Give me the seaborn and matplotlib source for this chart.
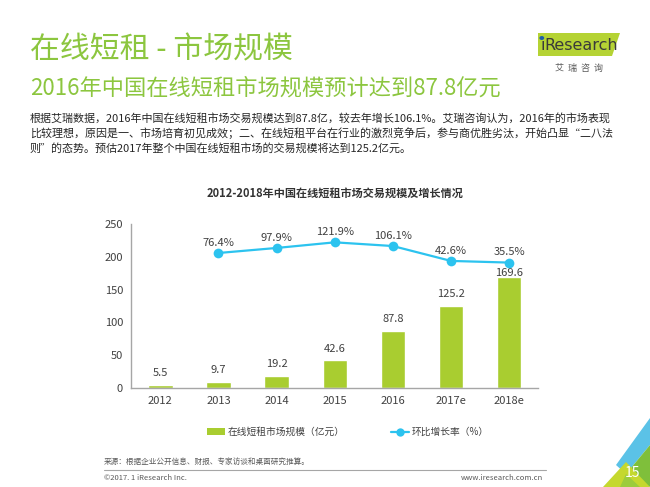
import numpy as np
import pandas as pd
import matplotlib
matplotlib.use("Agg")
import matplotlib.pyplot as plt
from matplotlib.patches import Polygon
from matplotlib.lines import Line2D
from matplotlib.patches import Patch
import seaborn as sns

# data
years = ["2012", "2013", "2014", "2015", "2016", "2017e", "2018e"]
market_size = [5.5, 9.7, 19.2, 42.6, 87.8, 125.2, 169.6]
growth_years = ["2013", "2014", "2015", "2016", "2017e", "2018e"]
growth_rate = [76.4, 97.9, 121.9, 106.1, 42.6, 35.5]
yticks = [0, 50, 100, 150, 200, 250]

bar_color = "#a9cd30"
line_color = "#2cc3ef"
green_title = "#8cc63f"
text_dark = "#404040"

sns.set_theme(style="white")
plt.rcParams['font.family'] = ['Noto Sans CJK SC', 'DejaVu Sans']

fig = plt.figure(figsize=(6.5, 4.87), dpi=100)
ax = fig.add_axes([0.202, 0.203, 0.626, 0.337])

df = pd.DataFrame({"year": years, "size": market_size})
sns.barplot(data=df, x="year", y="size", color=bar_color, width=0.42,
            saturation=1, ax=ax)
ax.set_xlim(-0.5, 6.5)
ax.set_ylim(0, 250)
ax.set_yticks(yticks)
ax.set_xlabel("")
ax.set_ylabel("")
ax.tick_params(axis="both", length=0, labelsize=8, colors=text_dark, pad=6)
for s in ["top", "right"]:
    ax.spines[s].set_visible(False)
for s in ["left", "bottom"]:
    ax.spines[s].set_color("#a6a6a6")
    ax.spines[s].set_linewidth(1)

# growth line on hidden twin axis
ax2 = ax.twinx()
g_lo, g_hi = -500, 200
gx = [years.index(y) for y in growth_years]
gdf = pd.DataFrame({"x": gx, "rate": growth_rate})
sns.lineplot(data=gdf, x="x", y="rate", color=line_color, linewidth=1.6,
             marker="o", markersize=7, markeredgewidth=0, ax=ax2)
ax2.set_ylim(g_lo, g_hi)
ax2.set_xlim(-0.5, 6.5)
ax2.axis("off")
for x, v in zip(gx, growth_rate):
    ax2.text(x, v + 22, f"{v}%", ha="center", va="bottom", fontsize=8, color=text_dark)

# bar labels, pushed under the growth marker when they would collide
marker_left = {x: (v - g_lo) / (g_hi - g_lo) * 250 for x, v in zip(gx, growth_rate)}
for i, v in enumerate(market_size):
    y = v + 17.5
    if i in marker_left:
        y = min(y, marker_left[i] - 15.5)
    ax.text(i, y, f"{v}", ha="center", va="center", fontsize=8, color=text_dark)

# legend
handles = [Patch(facecolor=bar_color, edgecolor="none"),
           Line2D([0], [0], color=line_color, marker="o", markersize=6,
                  markeredgewidth=0, linewidth=1.6)]
fig.legend(handles, ["在线短租市场规模（亿元）", "环比增长率（%）"], loc="center",
           bbox_to_anchor=(0.535, 0.113), ncol=2, frameon=False, fontsize=7,
           columnspacing=4.8, handlelength=1.9, handletextpad=0.2,
           labelcolor=text_dark)

# chart title
fig.text(0.515, 0.603, "2012-2018年中国在线短租市场交易规模及增长情况", ha="center",
         va="center", fontsize=8, fontweight="bold", color="#333333")

# page header
fig.text(0.046, 0.897, "在线短租 - 市场规模", fontsize=21.5, color=green_title,
         va="center")
fig.text(0.046, 0.82, "2016年中国在线短租市场规模预计达到87.8亿元", fontsize=16,
         color=green_title, va="center")
body = ["根据艾瑞数据，2016年中国在线短租市场交易规模达到87.8亿，较去年增长106.1%。艾瑞咨询认为，2016年的市场表现",
        "比较理想，原因是一、市场培育初见成效；二、在线短租平台在行业的激烈竞争后，参与商优胜劣汰，开始凸显“二八法",
        "则”的态势。预估2017年整个中国在线短租市场的交易规模将达到125.2亿元。"]
for k, line in enumerate(body):
    fig.text(0.046, 0.758 - k * 0.031, line, fontsize=7.95, color="#262626", va="center")

# logo
fig.patches.append(Polygon([[538 / 650, 1 - 33 / 487], [620 / 650, 1 - 33 / 487],
                            [612 / 650, 1 - 56 / 487], [538 / 650, 1 - 56 / 487]],
                           closed=True, transform=fig.transFigure,
                           facecolor="#b5d334", edgecolor="none"))
fig.text(540 / 650, 1 - 45.5 / 487, "ı", fontsize=11.5, color="#3a3a3a",
         va="center", family="DejaVu Sans")
fig.patches.append(plt.Circle((541.8 / 650, 1 - 38 / 487), 1.7 / 650,
                              transform=fig.transFigure, color="#1f5fa8"))
fig.text(544 / 650, 1 - 45.5 / 487, "Research", fontsize=11.5, color="#3a3a3a",
         va="center", family="DejaVu Sans")
fig.text(579 / 650, 1 - 68 / 487, "艾  瑞  咨  询", fontsize=6.5, color="#595959",
         va="center", ha="center")

# footer
fig.text(0.16, 1 - 462 / 487, "来源：根据企业公开信息、财报、专家访谈和桌面研究推算。",
         fontsize=5.5, color="#595959", va="center")
fig.add_artist(Line2D([0.16, 0.84], [1 - 470 / 487, 1 - 470 / 487],
                      transform=fig.transFigure, color="#a6a6a6", linewidth=0.8))
fig.text(0.16, 1 - 478 / 487, "©2017. 1 iResearch Inc.", fontsize=5.5,
         color="#595959", va="center")
fig.text(0.835, 1 - 478 / 487, "www.iresearch.com.cn", fontsize=5.5,
         color="#595959", va="center", ha="right")

# corner decoration
def poly(pts, color):
    fig.patches.append(Polygon([[x / 650, 1 - y / 487] for x, y in pts], closed=True,
                               transform=fig.transFigure, facecolor=color,
                               edgecolor="none"))

poly([(650, 418), (616, 465), (626, 474), (650, 445)], "#5bc2e7")
poly([(650, 445), (626, 474), (650, 487)], "#7fbf3b")
poly([(603, 487), (626, 462), (650, 487)], "#c5d82e")
poly([(626, 474), (640, 487), (620, 487)], "#9ccc3c")
fig.text(632 / 650, 1 - 473 / 487, "15", fontsize=10, color="white", ha="center",
         va="center")

fig.savefig("out.png", dpi=100)
